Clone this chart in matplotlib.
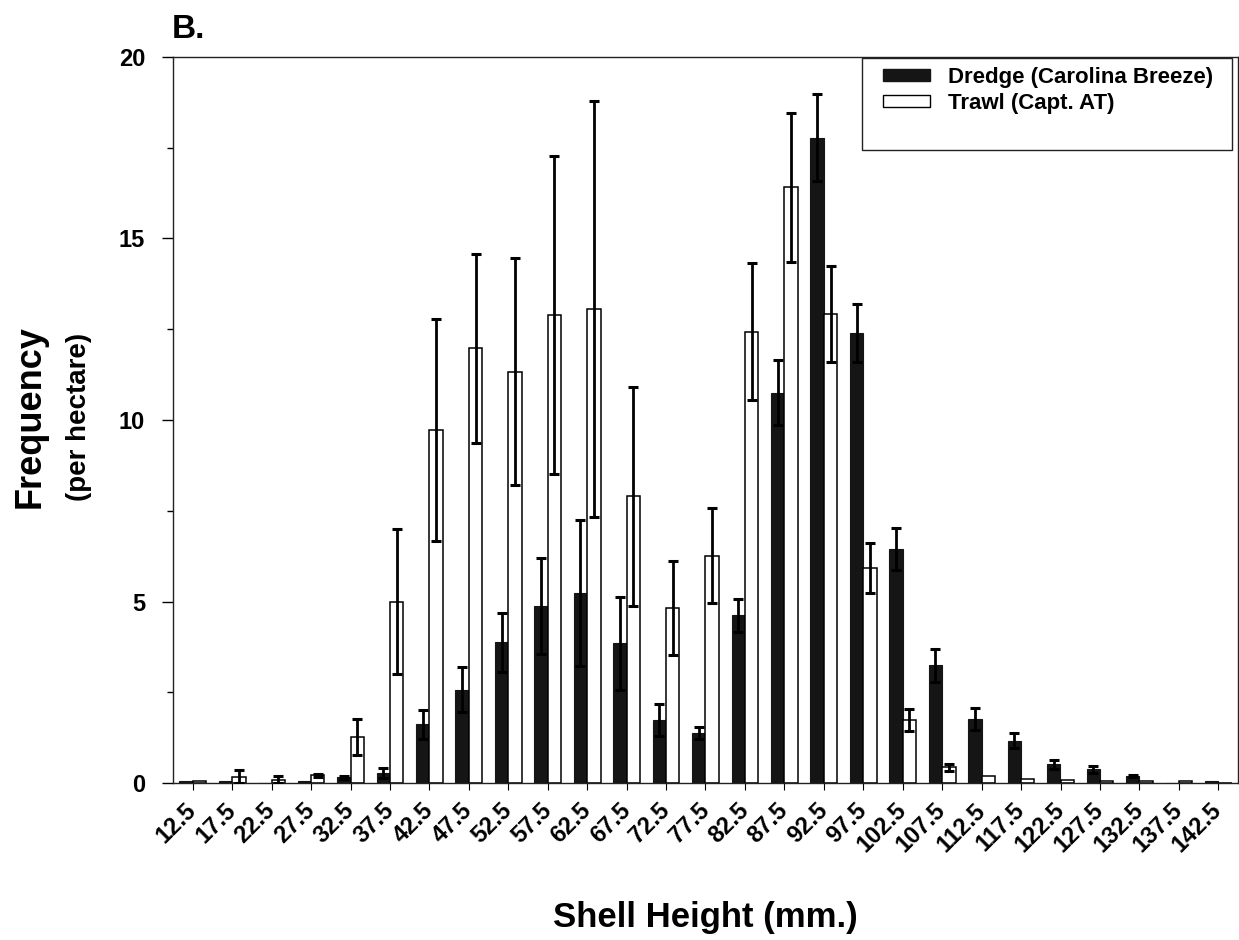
import numpy as np
import matplotlib
matplotlib.use('Agg')
import matplotlib.pyplot as plt
from matplotlib.ticker import MultipleLocator
from matplotlib.patches import Rectangle, Patch

plt.rcParams['font.family'] = ['Liberation Sans', 'DejaVu Sans']

# shell height classes (mm)
sizes = ['12.5', '17.5', '22.5', '27.5', '32.5', '37.5', '42.5', '47.5', '52.5',
         '57.5', '62.5', '67.5', '72.5', '77.5', '82.5', '87.5', '92.5', '97.5',
         '102.5', '107.5', '112.5', '117.5', '122.5', '127.5', '132.5', '137.5', '142.5']

# Dredge (Carolina Breeze): mean and SE
dredge = [0.05, 0.06, 0.0, 0.05, 0.17, 0.28, 1.62, 2.57, 3.88, 4.88, 5.24, 3.85, 1.74,
          1.38, 4.62, 10.75, 17.77, 12.4, 6.46, 3.25, 1.78, 1.17, 0.52, 0.38, 0.21, 0.0, 0.07]
dredge_se = [0, 0, 0, 0, 0.04, 0.14, 0.4, 0.62, 0.81, 1.33, 2.0, 1.28, 0.44,
             0.16, 0.46, 0.9, 1.19, 0.8, 0.58, 0.46, 0.3, 0.21, 0.13, 0.1, 0.03, 0, 0]

# Trawl (Capt. AT): mean and SE
trawl = [0.05, 0.18, 0.1, 0.22, 1.27, 5.0, 9.72, 11.97, 11.33, 12.88, 13.05, 7.9, 4.82,
         6.27, 12.43, 16.4, 12.92, 5.93, 1.75, 0.44, 0.2, 0.12, 0.08, 0.07, 0.06, 0.05, 0.0]
trawl_se = [0, 0.18, 0.09, 0.04, 0.49, 2.0, 3.05, 2.6, 3.12, 4.38, 5.72, 3.02, 1.29,
            1.32, 1.88, 2.05, 1.33, 0.68, 0.3, 0.1, 0, 0, 0, 0, 0, 0, 0]

W, H = 1239, 940
fig = plt.figure(figsize=(W / 100, H / 100), dpi=100)
ax = fig.add_axes([173 / W, (H - 783.3) / H, (1238 - 173) / W, (783.3 - 56.7) / H])

x = np.arange(len(sizes))
w = 0.34
dark = '#151515'

ax.bar(x - w / 2, dredge, w, color=dark, edgecolor=dark, linewidth=0.8, zorder=2)
ax.bar(x + w / 2, trawl, w, color='white', edgecolor='black', linewidth=1.1, zorder=2)

ekw = dict(fmt='none', ecolor='black', elinewidth=2.0, capsize=3.3, capthick=2.2, zorder=3)
d_se = np.array(dredge_se)
t_se = np.array(trawl_se)
m = d_se > 0
ax.errorbar((x - w / 2)[m], np.array(dredge)[m], yerr=d_se[m], **ekw)
m = t_se > 0
ax.errorbar((x + w / 2)[m], np.array(trawl)[m], yerr=t_se[m], **ekw)

ax.set_xlim(-0.5, len(sizes) - 0.5)
ax.set_ylim(0, 20)
ax.yaxis.set_major_locator(MultipleLocator(5))
ax.yaxis.set_minor_locator(MultipleLocator(2.5))
ax.set_xticks(x)
ax.set_xticklabels(sizes, rotation=45, ha='right', va='center', rotation_mode='anchor',
                   fontsize=17, fontweight='bold')
for lab in ax.get_yticklabels():
    lab.set_fontsize(17)
    lab.set_fontweight('bold')
ax.tick_params(axis='y', which='major', direction='out', length=8, width=1, pad=12)
ax.tick_params(axis='y', which='minor', direction='out', length=4, width=1)
ax.tick_params(axis='x', direction='out', length=5, width=0.8, pad=12)
for sp in ax.spines.values():
    sp.set_linewidth(1.0)
    sp.set_color('#222222')

# legend with a taller frame like the original
ax.add_patch(Rectangle((0.647, 0.8716), 0.347, 0.126, transform=ax.transAxes,
                       facecolor='white', edgecolor='#222222', linewidth=1.0, zorder=4))
handles = [Patch(facecolor=dark, edgecolor=dark), Patch(facecolor='white', edgecolor='black')]
ax.legend(handles, ['Dredge (Carolina Breeze)', 'Trawl (Capt. AT)'], loc='upper left',
          bbox_to_anchor=(0.648, 1.014), frameon=False,
          prop={'weight': 'bold', 'size': 16}, handlelength=2.1, handleheight=0.45,
          labelspacing=0.25, handletextpad=0.8).set_zorder(5)

fig.text(172 / W, 1 - 30 / H, 'B.', fontsize=24, fontweight='bold', ha='left', va='center')
fig.text(30 / W, 1 - 417 / H, 'Frequency', rotation=90, fontsize=26, fontweight='bold',
         ha='center', va='center')
fig.text(79 / W, 1 - 417 / H, '(per hectare)', rotation=90, fontsize=20, fontweight='bold',
         ha='center', va='center')
fig.text(705 / W, 1 - 918 / H, 'Shell Height (mm.)', fontsize=25, fontweight='bold',
         ha='center', va='center')

fig.savefig('out.png', dpi=100)
